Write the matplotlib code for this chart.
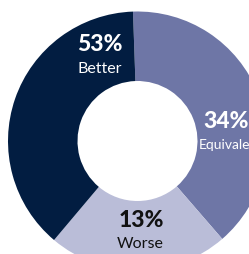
import matplotlib.pyplot as plt

# categories in drawing order (clockwise from the top)
categories = ["Equivalent", "Worse", "Better"]
pct_labels = ["34%", "13%", "53%"]
# wedge shares as drawn in the picture
shares = [39.2, 22.5, 38.3]

colors = ["#6e76a6", "#babdd8", "#021d41"]
text_colors = ["white", "#111111", "white"]

W, H = 249, 255
cx, cy, R = 137.5, 142, 129.5   # donut centre / radius in pixels

fig = plt.figure(figsize=(W / 100, H / 100), dpi=100)
ax = fig.add_axes([(cx - R) / W, (H - cy - R) / H, 2 * R / W, 2 * R / H])

ax.pie(shares, colors=colors, startangle=92, counterclock=False,
       radius=1, wedgeprops=dict(width=1 - 60 / R, linewidth=0))
ax.set_xlim(-1, 1)
ax.set_ylim(-1, 1)
ax.set_aspect("equal")
ax.axis("off")

def px(x, y):
    return (x - cx) / R, (cy - y) / R

# label spots (pixel coords): percent, name, name alignment, name size
spots = [((226, 122), (199, 145), "left", 10),
         ((141.5, 221), (140.5, 244), "center", 11.5),
         ((100, 45), (100, 69), "center", 11.5)]

for name, pct, tc, (p1, p2, ha, fs) in zip(categories, pct_labels, text_colors, spots):
    x, y = px(*p1)
    ax.text(x, y, pct, ha="center", va="center", fontsize=16.5,
            fontweight="black", color=tc, family="Lato", clip_on=False)
    x, y = px(*p2)
    ax.text(x, y, name, ha=ha, va="center", fontsize=fs,
            fontweight="normal", color=tc, family="Lato", clip_on=False)

fig.savefig("out.png", dpi=100)
